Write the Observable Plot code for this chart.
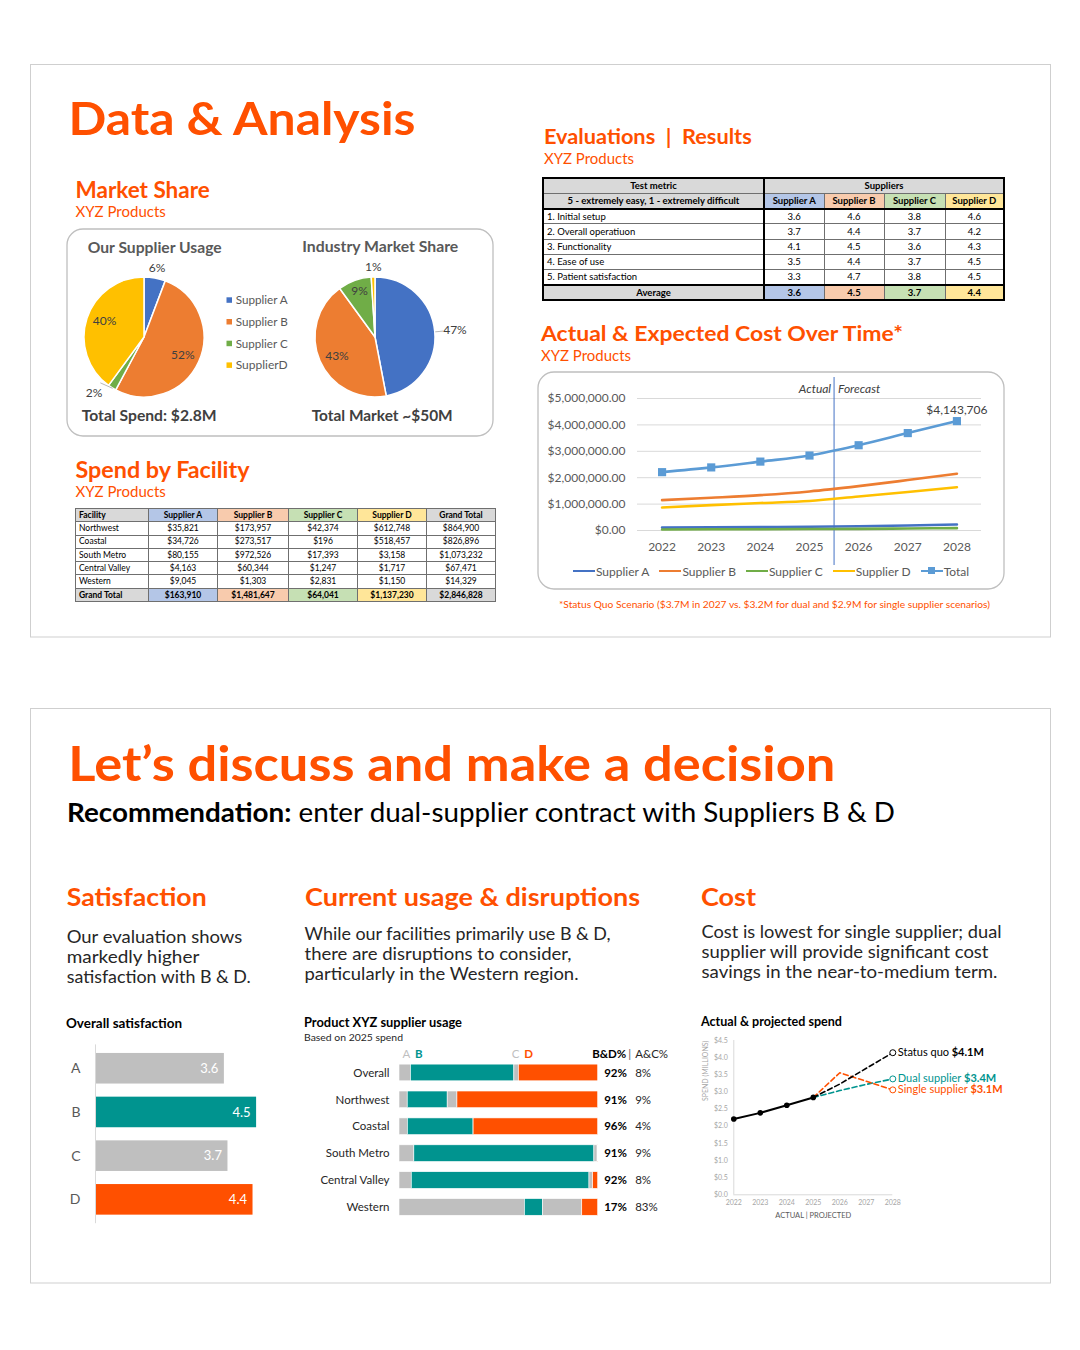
<!DOCTYPE html>
<html lang="en">
<head>
<meta charset="utf-8">
<title>Data &amp; Analysis</title>
<script src="https://cdn.jsdelivr.net/npm/d3@7"></script>
<script src="https://cdn.jsdelivr.net/npm/@observablehq/plot@0.6"></script>
<style>
html,body{margin:0;padding:0;background:#fff;}
body{position:relative;width:1080px;height:1350px;overflow:hidden;font-family:Lato,"Open Sans",sans-serif;}
.abs{position:absolute;}
.abs svg{display:block;}
#bg text{white-space:pre;}
table.tbl{position:absolute;border-collapse:collapse;table-layout:fixed;font-family:Lato,sans-serif;color:#000;}
table.tbl td{padding:0 3px;line-height:1;white-space:nowrap;overflow:hidden;border:1px solid #6f6f6f;box-sizing:border-box;}
table.tbl td.c{text-align:center;}
table.tbl td.b{font-weight:700;}
#evalTable{border:2px solid #000;}
#spendTable{border:1.5px solid #333;}
#costLegend{display:flex;justify-content:center;align-items:center;font-family:Lato,sans-serif;font-size:12px;color:#595959;}
#costLegend .item{display:flex;align-items:center;margin:0 5px;}
#costLegend .sw{position:relative;width:22px;height:2.6px;margin-right:1px;}
#costLegend .mk{position:absolute;left:7.5px;top:-2.5px;width:7px;height:7px;}
</style>
</head>
<body>
<svg id="bg" class="abs" style="left:0;top:0" width="1080" height="1350"></svg>
<div id="pieUsage" class="abs" style="left:34.3px;top:237.3px;width:220px;height:200px"></div>
<div id="pieIndustry" class="abs" style="left:265px;top:237px;width:220px;height:200px"></div>
<table id="spendTable" class="tbl" style="left:75px;top:508px;width:420px;font-size:8.5px"></table>
<table id="evalTable" class="tbl" style="left:542px;top:177px;width:461px;font-size:9.5px"></table>
<div id="costChart" class="abs" style="left:538px;top:372px;width:466px;height:200px"></div>
<div id="costLegend" class="abs" style="left:538px;top:563px;width:466px;height:16px"></div>
<div id="satChart" class="abs" style="left:60px;top:1040px;width:220px;height:190px"></div>
<div id="usageChart" class="abs" style="left:300px;top:1045px;width:380px;height:185px"></div>
<div id="spendChart" class="abs" style="left:695px;top:1030px;width:315px;height:195px"></div>
<script>
// ================= DATA =================
const supplierNames = ["Supplier A", "Supplier B", "Supplier C", "Supplier D"];
const supplierLetters = ["A", "B", "C", "D"];
const pieLegendLabels = ["Supplier A", "Supplier B", "Supplier C", "SupplierD"];

// Spend by facility (table)
const facilities = ["Northwest", "Coastal", "South Metro", "Central Valley", "Western"];
const spendA = [35821, 34726, 80155, 4163, 9045];
const spendB = [173957, 273517, 972526, 60344, 1303];
const spendC = [42374, 196, 17393, 1247, 2831];
const spendD = [612748, 518457, 3158, 1717, 1150];

// Industry market share (%)
const industryShare = [47, 43, 9, 1];
const industryTotalLabel = "Total Market ~$50M";

// Evaluation scores
const metrics = ["1. Initial setup", "2. Overall operatiuon", "3. Functionality", "4. Ease of use", "5. Patient satisfaction"];
const scoreA = [3.6, 3.7, 4.1, 3.5, 3.3];
const scoreB = [4.6, 4.4, 4.5, 4.4, 4.7];
const scoreC = [3.8, 3.7, 3.6, 3.7, 3.8];
const scoreD = [4.6, 4.2, 4.3, 4.5, 4.5];

// Actual & expected cost over time
const years = [2022, 2023, 2024, 2025, 2026, 2027, 2028];
const costA = [110000, 120000, 130000, 140000, 160000, 190000, 230000];
const costB = [1150000, 1240000, 1340000, 1480000, 1680000, 1910000, 2150000];
const costC = [40000, 45000, 50000, 55000, 60000, 75000, 90000];
const costD = [870000, 960000, 1040000, 1120000, 1290000, 1460000, 1640000];
const costTotal = [2210000, 2390000, 2610000, 2840000, 3230000, 3690000, 4143706];
const lastActualYear = 2025;
const forecastBoundary = 2025.5;
const costTicks = [0, 1000000, 2000000, 3000000, 4000000, 5000000];

// Projected spend scenarios (millions), 2025-2028
const scenarioNames = ["Status quo", "Dual supplier", "Single supplier"];
const scenarioYears = [2025, 2026, 2027, 2028];
const dualSupplier = [2.84, 3.04, 3.22, 3.38];
const singleSupplier = [2.84, 3.56, 3.31, 3.06];
const spendTicks = [0, 0.5, 1, 1.5, 2, 2.5, 3, 3.5, 4, 4.5];

// ================= COLOURS =================
const ORANGE = "#FF5000", TEAL = "#00948F", GRAY = "#BFBFBF";
const excelColors = ["#4472C4", "#ED7D31", "#70AD47", "#FFC000"];
const totalColor = "#5B9BD5";
const headerFills = ["#B4C6E7", "#F8CBAD", "#C6E0B4", "#FFE699"];
const HEAD_GRAY = "#D9D9D9";

// ================= DERIVED =================
const spendBySupplier = [spendA, spendB, spendC, spendD];
const supplierTotals = spendBySupplier.map(d => d3.sum(d));
const facilityTotals = facilities.map((f, i) => d3.sum(spendBySupplier, s => s[i]));
const grandTotal = d3.sum(supplierTotals);
const scores = [scoreA, scoreB, scoreC, scoreD];
const avgScores = scores.map(s => +d3.mean(s).toFixed(1));
const fmtMoney = d3.format("$,.0f");
const fmtPct = d3.format(".0%");

const supplierColor = Plot.scale({color: {domain: supplierNames, range: excelColors}});

// ================= BACKGROUND / STATIC TEXT =================
const bg = d3.select("#bg");
function box(x, y, w, h, rx, stroke) {
  bg.append("rect").attr("x", x).attr("y", y).attr("width", w).attr("height", h)
    .attr("rx", rx).attr("fill", "none").attr("stroke", stroke).attr("stroke-width", rx ? 1.3 : 1);
}
function label(x, y, parts, {size, fill = "#000", weight = 400, len = null, style = null} = {}) {
  const t = bg.append("text").attr("x", x).attr("y", y).attr("font-size", size)
    .attr("fill", fill).attr("font-weight", weight).attr("font-family", "Lato, sans-serif");
  if (style) t.attr("font-style", style);
  if (typeof parts === "string") t.text(parts);
  else parts.forEach(p => t.append("tspan").attr("font-weight", p.weight ?? weight).attr("fill", p.fill ?? fill).text(p.text));
  if (len) t.attr("textLength", len).attr("lengthAdjust", "spacingAndGlyphs");
  return t;
}
box(30.5, 64.5, 1020, 572.5, 0, "#CFCFCF");
box(30.5, 708.5, 1020, 574.5, 0, "#CFCFCF");
box(67, 229, 426, 207, 16, "#BFBFBF");
box(538, 372, 466, 217, 16, "#BFBFBF");

label(68.5, 135, "Data & Analysis", {size: 46.5, weight: 700, fill: ORANGE, len: 347});
label(75.5, 197.7, "Market Share", {size: 22.5, weight: 700, fill: ORANGE, len: 134.3});
label(75.5, 216.7, "XYZ Products", {size: 15.3, fill: ORANGE, len: 90.3});
label(87.7, 253, "Our Supplier Usage", {size: 15.5, weight: 700, fill: "#595959", len: 134});
label(302.3, 252, "Industry Market Share", {size: 15.5, weight: 700, fill: "#595959", len: 156});
label(81.7, 421.3, "Total Spend: " + d3.format("$.1f")(grandTotal / 1e6) + "M", {size: 16, weight: 700, fill: "#404040", len: 135});
label(311.7, 421.3, industryTotalLabel, {size: 16, weight: 700, fill: "#404040", len: 141});
pieLegendLabels.forEach((name, i) => {
  const cy = 300.3 + i * 21.7;
  bg.append("rect").attr("x", 226.5).attr("y", cy - 3).attr("width", 5.5).attr("height", 5.5)
    .attr("fill", supplierColor.apply(supplierNames[i]));
  label(235.7, cy + 4, name, {size: 11.5, fill: "#595959", len: 52});
});
label(75.5, 477.5, "Spend by Facility", {size: 22.5, weight: 700, fill: ORANGE, len: 174});
label(75.5, 496.5, "XYZ Products", {size: 15.3, fill: ORANGE, len: 90.3});
label(544, 144, "Evaluations  |  Results", {size: 21, weight: 700, fill: ORANGE, len: 207.7});
label(544, 164, "XYZ Products", {size: 15.3, fill: ORANGE, len: 90});
label(541, 340.5, "Actual & Expected Cost Over Time*", {size: 21, weight: 700, fill: ORANGE, len: 362});
label(541, 360.5, "XYZ Products", {size: 15.3, fill: ORANGE, len: 90});
label(559, 608, "*Status Quo Scenario ($3.7M in 2027 vs. $3.2M for dual and $2.9M for single supplier scenarios)", {size: 9, fill: ORANGE, len: 431});

label(68.3, 781, "Let\u2019s discuss and make a decision", {size: 47.5, weight: 700, fill: ORANGE, len: 767});
label(67, 822, [{text: "Recommendation:", weight: 700}, {text: " enter dual-supplier contract with Suppliers B & D", weight: 400}], {size: 27, fill: "#000", len: 828});
label(66.7, 906, "Satisfaction", {size: 24, weight: 700, fill: ORANGE, len: 140});
label(305, 906, "Current usage & disruptions", {size: 24, weight: 700, fill: ORANGE, len: 335});
label(701, 906, "Cost", {size: 24, weight: 700, fill: ORANGE, len: 55});
[["Our evaluation shows", 175.6], ["markedly higher", 132.6], ["satisfaction with B & D.", 184]].forEach(([t, w], i) =>
  label(66.7, 942.7 + i * 20.3, t, {size: 18, fill: "#262626", len: w}));
[["While our facilities primarily use B & D,", 306], ["there are disruptions to consider,", 267], ["particularly in the Western region.", 274]].forEach(([t, w], i) =>
  label(304.5, 939.5 + i * 20.3, t, {size: 18, fill: "#262626", len: w}));
[["Cost is lowest for single supplier; dual", 300], ["supplier will provide significant cost", 287], ["savings in the near-to-medium term.", 296]].forEach(([t, w], i) =>
  label(701.5, 937.5 + i * 20.3, t, {size: 18, fill: "#262626", len: w}));
label(66, 1028.3, "Overall satisfaction", {size: 12.5, weight: 700, fill: "#000", len: 116});
label(304, 1027.3, "Product XYZ supplier usage", {size: 12.5, weight: 700, fill: "#000", len: 158});
label(304, 1040.7, "Based on 2025 spend", {size: 9.5, fill: "#262626", len: 99});
label(701, 1026, "Actual & projected spend", {size: 12.5, weight: 700, fill: "#000", len: 141});

// ================= PIES =================
function pieSlices(arcs) {
  return (index, scales) => {
    const x0 = scales.x(0), y0 = scales.y(0), R = Math.abs(scales.x(1) - scales.x(0));
    const arc = d3.arc().innerRadius(0).outerRadius(R);
    const g = d3.create("svg:g").attr("transform", `translate(${x0},${y0})`);
    g.selectAll("path").data(arcs).join("path")
      .attr("d", arc)
      .attr("fill", d => supplierColor.apply(d.data.name))
      .attr("stroke", "white").attr("stroke-width", 1.5).attr("stroke-linejoin", "round");
    return g.node();
  };
}
// placement: [label radius (in pie radii), dx, dy] per slice
function drawPie(id, values, placement) {
  const data = supplierNames.map((name, i) => ({name, value: values[i]}));
  const total = d3.sum(values);
  const arcs = d3.pie().value(d => d.value).sort(null)(data);
  const labels = arcs.map((a, i) => {
    const m = (a.startAngle + a.endAngle) / 2, [k, dx, dy] = placement[i];
    return {x: Math.sin(m) * k, y: Math.cos(m) * k, m, k, dx, dy, text: fmtPct(a.data.value / total)};
  });
  const leaders = labels.filter(d => d.k > 1.22).map(d => ({
    x1: Math.sin(d.m) * 1.0, y1: Math.cos(d.m) * 1.0,
    x2: Math.sin(d.m) * (d.k - 0.2) + d.dx / 60, y2: Math.cos(d.m) * (d.k - 0.2) - d.dy / 60
  }));
  const plot = Plot.plot({
    width: 220, height: 200, margin: 0,
    style: {background: "transparent", fontFamily: "Lato, sans-serif", fontSize: "12px"},
    x: {domain: [-110 / 60, 110 / 60], axis: null},
    y: {domain: [-100 / 60, 100 / 60], axis: null},
    marks: [
      pieSlices(arcs),
      Plot.link(leaders, {x1: "x1", y1: "y1", x2: "x2", y2: "y2", stroke: "#A6A6A6", strokeWidth: 0.8}),
      ...labels.map(l => Plot.text([l], {x: "x", y: "y", text: "text", fill: "#404040", dx: l.dx, dy: l.dy}))
    ]
  });
  document.getElementById(id).append(plot);
}
drawPie("pieUsage", supplierTotals, [[1.17, 0, 0], [0.7, 0, 0], [1.27, -10, -9], [0.7, 0, -3]]);
drawPie("pieIndustry", industryShare, [[1.33, 0, 0], [0.7, 0, 2], [0.78, 0, -2], [1.17, 0, 0]]);

// ================= TABLES =================
(function spendTable() {
  const t = d3.select("#spendTable");
  const cg = t.append("colgroup");
  [73, 69, 71, 69, 69, 69].forEach(w => cg.append("col").style("width", w + "px"));
  const rowH = "13.3px";
  let tr = t.append("tr").style("height", rowH);
  tr.append("td").attr("class", "b").style("background", HEAD_GRAY).text("Facility");
  supplierNames.forEach((s, j) => tr.append("td").attr("class", "b c").style("background", headerFills[j]).text(s));
  tr.append("td").attr("class", "b c").style("background", HEAD_GRAY).text("Grand Total");
  facilities.forEach((f, i) => {
    tr = t.append("tr").style("height", rowH);
    tr.append("td").text(f);
    spendBySupplier.forEach(s => tr.append("td").attr("class", "c").text(fmtMoney(s[i])));
    tr.append("td").attr("class", "c").text(fmtMoney(facilityTotals[i]));
  });
  tr = t.append("tr").style("height", rowH);
  tr.append("td").attr("class", "b").style("background", HEAD_GRAY).text("Grand Total");
  supplierTotals.forEach((v, j) => tr.append("td").attr("class", "b c").style("background", headerFills[j]).text(fmtMoney(v)));
  tr.append("td").attr("class", "b c").style("background", HEAD_GRAY).text(fmtMoney(grandTotal));
})();

(function evalTable() {
  const t = d3.select("#evalTable");
  const cg = t.append("colgroup");
  [221, 60, 60, 61, 59].forEach(w => cg.append("col").style("width", w + "px"));
  const rowH = "15.2px", thick = "2px solid #000";
  let tr = t.append("tr").style("height", "15.6px");
  tr.append("td").attr("class", "b c").style("background", HEAD_GRAY).style("border-right", thick).text("Test metric");
  tr.append("td").attr("colspan", 4).attr("class", "b c").style("background", HEAD_GRAY).text("Suppliers");
  tr = t.append("tr").style("height", rowH);
  tr.append("td").attr("class", "b c").style("background", HEAD_GRAY).style("border-right", thick).style("border-bottom", thick)
    .text("5 - extremely easy, 1 - extremely difficult");
  supplierNames.forEach((s, j) => tr.append("td").attr("class", "b c").style("background", headerFills[j]).style("border-bottom", thick).text(s));
  metrics.forEach((m, i) => {
    tr = t.append("tr").style("height", rowH);
    tr.append("td").style("border-right", thick).text(m);
    scores.forEach(s => tr.append("td").attr("class", "c").text(s[i].toFixed(1)));
  });
  tr = t.append("tr").style("height", rowH);
  tr.append("td").attr("class", "b c").style("background", HEAD_GRAY).style("border-right", thick).style("border-top", thick).text("Average");
  avgScores.forEach((v, j) => tr.append("td").attr("class", "b c").style("background", headerFills[j]).style("border-top", thick).text(v.toFixed(1)));
})();

// ================= COST OVER TIME (line chart) =================
const seriesNames = [...supplierNames, "Total"];
const costSeries = [costA, costB, costC, costD, costTotal];
const seriesColor = Plot.scale({color: {domain: seriesNames, range: [...excelColors, totalColor]}});
const costRows = seriesNames.flatMap((s, j) => years.map((year, i) => ({series: s, year, value: costSeries[j][i]})));
const totalRows = costRows.filter(d => d.series === "Total");

document.getElementById("costChart").append(Plot.plot({
  width: 466, height: 200, marginLeft: 99, marginRight: 23, marginTop: 26, marginBottom: 42,
  style: {background: "transparent", fontFamily: "Lato, sans-serif", fontSize: "12px", color: "#595959"},
  x: {domain: [years[0] - 0.5, years[years.length - 1] + 0.5], ticks: years, tickFormat: "d", tickSize: 0, tickPadding: 12, label: null},
  y: {domain: [0, d3.max(costTicks)], ticks: costTicks, tickFormat: d3.format("$,.2f"), tickSize: 0, tickPadding: 12, label: null},
  color: {domain: seriesNames, range: [...excelColors, totalColor]},
  marks: [
    Plot.ruleY(costTicks, {stroke: "#D9D9D9", strokeWidth: 1}),
    Plot.ruleX([forecastBoundary], {stroke: "#4472C4", strokeWidth: 1, insetTop: -21, insetBottom: -35}),
    Plot.line(costRows, {x: "year", y: "value", z: "series", stroke: "series", strokeWidth: 2.6, curve: "monotone-x"}),
    Plot.dot(totalRows, {x: "year", y: "value", symbol: "square", fill: totalColor, r: 4.6}),
    Plot.text(totalRows.slice(-1), {x: "year", y: "value", text: d => fmtMoney(d.value), dy: -11, fill: "#404040"}),
    Plot.text(["Actual"], {x: forecastBoundary, frameAnchor: "top", lineAnchor: "middle", text: d => d, textAnchor: "end", dx: -3, dy: -9, fontStyle: "italic", fill: "#404040"}),
    Plot.text(["Forecast"], {x: forecastBoundary, frameAnchor: "top", lineAnchor: "middle", text: d => d, textAnchor: "start", dx: 4, dy: -9, fontStyle: "italic", fill: "#404040"})
  ]
}));

(function costLegend() {
  const lg = d3.select("#costLegend");
  seriesNames.forEach(s => {
    const it = lg.append("div").attr("class", "item");
    const sw = it.append("div").attr("class", "sw").style("background", seriesColor.apply(s));
    if (s === "Total") sw.append("div").attr("class", "mk").style("background", seriesColor.apply(s));
    it.append("span").text(s);
  });
})();

// ================= OVERALL SATISFACTION =================
const satisfaction = supplierLetters.map((s, i) => ({supplier: s, score: avgScores[i]}));
document.getElementById("satChart").append(Plot.plot({
  width: 220, height: 190, marginLeft: 35, marginRight: 6, marginTop: 6.4, marginBottom: 8.8,
  style: {background: "transparent", fontFamily: "Lato, sans-serif", fontSize: "14px", color: "#595959"},
  x: {domain: [0, 5], axis: null},
  y: {domain: supplierLetters, paddingInner: 0.3, paddingOuter: 0.15, round: false, tickSize: 0, tickPadding: 15, label: null},
  color: {domain: supplierLetters, range: [GRAY, TEAL, GRAY, ORANGE]},
  marks: [
    Plot.barX(satisfaction, {x: "score", y: "supplier", fill: "supplier"}),
    Plot.ruleX([0], {stroke: "#D9D9D9", insetTop: -2, insetBottom: -2}),
    Plot.text(satisfaction, {x: "score", y: "supplier", text: d => d.score.toFixed(1), textAnchor: "end", dx: -6, fill: "white", fontSize: 13})
  ]
}));

// ================= SUPPLIER USAGE (stacked) =================
const usageRowNames = ["Overall", ...facilities];
const usage = usageRowNames.flatMap((row, r) => {
  const vals = spendBySupplier.map((s, j) => r === 0 ? supplierTotals[j] : s[r - 1]);
  const tot = d3.sum(vals);
  return supplierLetters.map((s, j) => ({row, supplier: s, pct: vals[j] / tot}));
});
const usageSummary = usageRowNames.map(row => {
  const v = usage.filter(d => d.row === row);
  return {row, bd: v[1].pct + v[3].pct, ac: v[0].pct + v[2].pct};
});
const overall = usage.filter(d => d.row === "Overall");
const overallStarts = overall.map((d, j) => ({supplier: d.supplier, start: d3.sum(overall.slice(0, j), e => e.pct)}));
const headText = (data, o) => Plot.text(data, {frameAnchor: "top", lineAnchor: "middle", ...o});

document.getElementById("usageChart").append(Plot.plot({
  width: 380, height: 185, marginLeft: 99, marginRight: 82.3, marginTop: 8.9, marginBottom: 4.5,
  style: {background: "transparent", fontFamily: "Lato, sans-serif", fontSize: "11.5px", color: "#262626"},
  x: {domain: [0, 1], axis: null},
  y: {domain: usageRowNames, padding: 0.38, round: false, tickSize: 0, tickPadding: 10, label: null},
  color: {domain: supplierLetters, range: [GRAY, TEAL, GRAY, ORANGE]},
  marks: [
    Plot.barX(usage, Plot.stackX({x: "pct", y: "row", fill: "supplier", stroke: "white", strokeWidth: 0.6})),
    Plot.text(usageSummary, {x: 1, y: "row", text: d => fmtPct(d.bd), dx: 6, textAnchor: "start", fontWeight: "bold", fill: "#000"}),
    Plot.text(usageSummary, {x: 1, y: "row", text: d => fmtPct(d.ac), dx: 37, textAnchor: "start", fill: "#262626"}),
    headText(overallStarts.filter(d => d.supplier === "A"), {x: "start", text: "supplier", fill: "supplier", textAnchor: "start", dx: 3}),
    headText(overallStarts.filter(d => d.supplier === "B"), {x: "start", text: "supplier", fill: "supplier", textAnchor: "start", dx: 4, fontWeight: "bold"}),
    headText(overallStarts.filter(d => d.supplier === "C"), {x: "start", text: "supplier", fill: "supplier", textAnchor: "end", dx: 5}),
    headText(overallStarts.filter(d => d.supplier === "D"), {x: "start", text: "supplier", fill: "supplier", textAnchor: "start", dx: 5.5, fontWeight: "bold"}),
    headText(["B&D%"], {x: 1, text: d => d, textAnchor: "start", dx: -6, fontWeight: "bold", fill: "#000"}),
    headText(["|"], {x: 1, text: d => d, textAnchor: "start", dx: 30, fill: "#595959"}),
    headText(["A&C%"], {x: 1, text: d => d, textAnchor: "start", dx: 37, fill: "#262626"})
  ]
}));

// ================= ACTUAL & PROJECTED SPEND =================
const actual = years.filter(y => y <= lastActualYear).map((year, i) => ({year, value: costTotal[i] / 1e6}));
const scenarioValues = [scenarioYears.map(y => costTotal[years.indexOf(y)] / 1e6), dualSupplier, singleSupplier];
const scenarios = scenarioNames.flatMap((name, j) => scenarioYears.map((year, i) => ({scenario: name, year, value: scenarioValues[j][i]})));
const scenarioEnds = scenarios.filter(d => d.year === scenarioYears[scenarioYears.length - 1]);

const spendPlot = Plot.plot({
  width: 315, height: 195, marginLeft: 38.3, marginRight: 117.7, marginTop: 10, marginBottom: 30.7,
  style: {background: "transparent", fontFamily: "Lato, sans-serif", fontSize: "7px", color: "#A6A6A6"},
  x: {domain: d3.extent(years), ticks: years, tickFormat: "d", tickSize: 0, tickPadding: 5, label: null},
  y: {domain: [0, d3.max(spendTicks)], ticks: spendTicks, tickFormat: d => "$" + d.toFixed(1), tickSize: 0, tickPadding: 6, label: null},
  color: {domain: scenarioNames, range: ["#000000", TEAL, ORANGE]},
  marks: [
    Plot.ruleX([years[0]], {stroke: "#D9D9D9"}),
    Plot.ruleY([0], {stroke: "#D9D9D9"}),
    Plot.line(scenarios.filter(d => d.scenario !== "Status quo"), {x: "year", y: "value", z: "scenario", stroke: "scenario", strokeWidth: 1.6, strokeDasharray: "5,3"}),
    Plot.line(scenarios.filter(d => d.scenario === "Status quo"), {x: "year", y: "value", stroke: "scenario", strokeWidth: 1.6, strokeDasharray: "5,3"}),
    Plot.line(actual, {x: "year", y: "value", stroke: "#000", strokeWidth: 2}),
    Plot.dot(actual, {x: "year", y: "value", fill: "#000", r: 2.8}),
    Plot.dot(scenarioEnds, {x: "year", y: "value", stroke: "scenario", fill: "white", r: 3, strokeWidth: 1}),
    Plot.text(scenarioEnds, {x: "year", y: "value", text: "scenario", fill: "scenario", dx: 5, textAnchor: "start", fontSize: 11}),
    Plot.text(["ACTUAL | PROJECTED"], {x: lastActualYear, frameAnchor: "bottom", lineAnchor: "middle", text: d => d, dy: 20.4, fill: "#595959", fontSize: 7.5}),
    Plot.text(["SPEND (MILLIONS)"], {frameAnchor: "top-left", lineAnchor: "middle", text: d => d, rotate: -90, textAnchor: "end", dx: -28, fill: "#A6A6A6", fontSize: 7})
  ]
});
// bold value after each scenario name
d3.select(spendPlot).selectAll("text").each(function () {
  const name = this.textContent;
  const d = scenarioEnds.find(e => e.scenario === name);
  if (d) d3.select(this).append("tspan").attr("font-weight", "bold").text(" " + d3.format("$.1f")(d.value) + "M");
});
document.getElementById("spendChart").append(spendPlot);
</script>
</body>
</html>
